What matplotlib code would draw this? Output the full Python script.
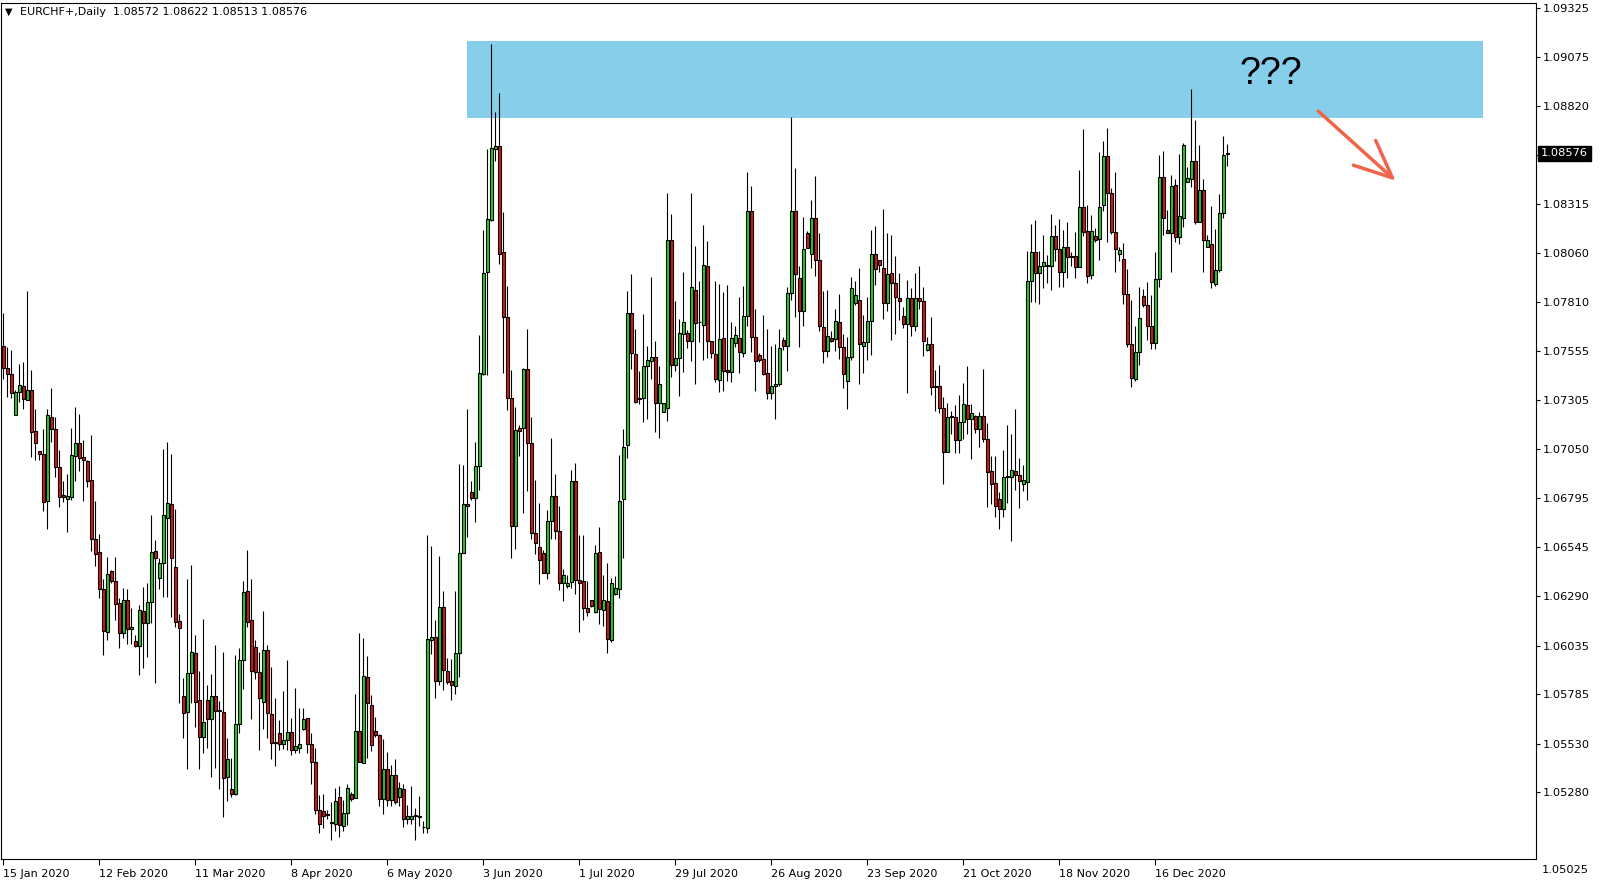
import matplotlib.pyplot as plt
import numpy as np
import pandas as pd
from matplotlib.patches import Rectangle

# EURCHF+ daily candles
opens = [
    1.07581, 1.07466, 1.07435, 1.07228, 1.07342, 1.07375, 1.07303, 1.07354, 1.07143, 1.07042,
    1.07024, 1.06784, 1.07215, 1.07151, 1.06955, 1.06812, 1.06790, 1.06804, 1.07016, 1.07079,
    1.07008, 1.06988, 1.06890, 1.06588, 1.06516, 1.06330, 1.06107, 1.06418, 1.06369, 1.06253,
    1.06098, 1.06269, 1.06119, 1.06059, 1.06031, 1.06212, 1.06154, 1.06263, 1.06526, 1.06382,
    1.06464, 1.06692, 1.06764, 1.06439, 1.06160, 1.05775, 1.05694, 1.05892, 1.05995, 1.05754,
    1.05565, 1.05754, 1.05659, 1.05775, 1.05703, 1.05691, 1.05355, 1.05295, 1.05272, 1.05630,
    1.05959, 1.06317, 1.06170, 1.06026, 1.05897, 1.05746, 1.06015, 1.05680, 1.05540, 1.05586,
    1.05530, 1.05546, 1.05592, 1.05498, 1.05509, 1.05607, 1.05664, 1.05530, 1.05437, 1.05185,
    1.05182, 1.05166, 1.05124, 1.05116, 1.05256, 1.05106, 1.05169, 1.05269, 1.05251, 1.05594,
    1.05431, 1.05873, 1.05729, 1.05594, 1.05574, 1.05246, 1.05401, 1.05237, 1.05367, 1.05255,
    1.05293, 1.05138, 1.05138, 1.05159, 1.05154, 1.05101, 1.05096, 1.06066, 1.06082, 1.05854,
    1.06235, 1.05903, 1.05851, 1.05828, 1.05999, 1.06514, 1.06764, 1.06826, 1.06799, 1.06960,
    1.07435, 1.07965, 1.08232, 1.08596, 1.08612, 1.08065, 1.07730, 1.07314, 1.06651, 1.07161,
    1.07156, 1.07462, 1.07079, 1.06619, 1.06542, 1.06511, 1.06408, 1.06681, 1.06805, 1.06628,
    1.06356, 1.06345, 1.06365, 1.06883, 1.06374, 1.06369, 1.06227, 1.06269, 1.06211, 1.06516,
    1.06219, 1.06266, 1.06064, 1.06302, 1.06326, 1.06790, 1.07073, 1.07750, 1.07541, 1.07315,
    1.07315, 1.07480, 1.07506, 1.07526, 1.07290, 1.07239, 1.07264, 1.08131, 1.07486, 1.07521,
    1.07646, 1.07651, 1.07610, 1.07869, 1.07708, 1.07688, 1.07997, 1.07610, 1.07541, 1.07404,
    1.07625, 1.07456, 1.07446, 1.07595, 1.07625, 1.07548, 1.07736, 1.08278, 1.07629, 1.07535,
    1.07514, 1.07440, 1.07341, 1.07377, 1.07383, 1.07613, 1.07584, 1.07853, 1.08278, 1.07932,
    1.07763, 1.08164, 1.08054, 1.08240, 1.08028, 1.07679, 1.07558, 1.07621, 1.07616, 1.07708,
    1.07574, 1.07403, 1.07527, 1.07802, 1.07819, 1.07584, 1.07600, 1.07710, 1.08054, 1.08025,
    1.07984, 1.07802, 1.07961, 1.07905, 1.07829, 1.07734, 1.07693, 1.07827, 1.07687, 1.07832,
    1.07812, 1.07563, 1.07590, 1.07373, 1.07373, 1.07260, 1.07036, 1.07220, 1.07213, 1.07099,
    1.07187, 1.07275, 1.07203, 1.07218, 1.07151, 1.07220, 1.07104, 1.06939, 1.06877, 1.06790,
    1.06739, 1.06907, 1.06907, 1.06938, 1.06918, 1.06867, 1.06881, 1.07919, 1.08069, 1.07960,
    1.07997, 1.08000, 1.07997, 1.08152, 1.08080, 1.07962, 1.08094, 1.08046, 1.08046, 1.07988,
    1.08297, 1.08173, 1.07946, 1.08147, 1.08132, 1.08312, 1.08563, 1.08371, 1.08168, 1.08059,
    1.08033, 1.07849, 1.07590, 1.07409, 1.07552, 1.07838, 1.07792, 1.07684, 1.07595, 1.07925,
    1.08452, 1.08179, 1.08163, 1.08411, 1.08142, 1.08240, 1.08427, 1.08442, 1.08534, 1.08220,
    1.08386, 1.08095, 1.08107, 1.07902, 1.07973, 1.08266, 1.08572,
]
highs = [
    1.07754, 1.07578, 1.07561, 1.07354, 1.07488, 1.07498, 1.07865, 1.07457, 1.07254, 1.07042,
    1.07153, 1.07258, 1.07367, 1.07217, 1.07044, 1.06887, 1.06921, 1.07158, 1.07269, 1.07230,
    1.07096, 1.06993, 1.07124, 1.06784, 1.06611, 1.06379, 1.06494, 1.06428, 1.06494, 1.06279,
    1.06335, 1.06330, 1.06232, 1.06090, 1.06245, 1.06337, 1.06356, 1.06709, 1.06580, 1.06485,
    1.07050, 1.07086, 1.07024, 1.06743, 1.06196, 1.05866, 1.06379, 1.06451, 1.06090, 1.05906,
    1.06175, 1.05832, 1.05888, 1.06038, 1.05749, 1.06002, 1.05558, 1.05453, 1.05987, 1.06025,
    1.06368, 1.06528, 1.06379, 1.06064, 1.06004, 1.06214, 1.06036, 1.05923, 1.05765, 1.05651,
    1.05801, 1.05961, 1.05661, 1.05818, 1.05713, 1.05713, 1.05664, 1.05586, 1.05507, 1.05266,
    1.05269, 1.05187, 1.05230, 1.05298, 1.05312, 1.05240, 1.05323, 1.05281, 1.05785, 1.06102,
    1.06074, 1.05983, 1.05780, 1.05666, 1.05579, 1.05555, 1.05484, 1.05418, 1.05448, 1.05333,
    1.05320, 1.05215, 1.05309, 1.05195, 1.05258, 1.05130, 1.06606, 1.06549, 1.06168, 1.06499,
    1.06316, 1.05972, 1.05967, 1.06316, 1.06973, 1.06970, 1.07255, 1.06885, 1.07086, 1.07638,
    1.08178, 1.08599, 1.09138, 1.08789, 1.08886, 1.08274, 1.07891, 1.07456, 1.07269, 1.07174,
    1.07470, 1.07671, 1.07217, 1.06890, 1.06769, 1.06528, 1.06735, 1.07106, 1.06919, 1.06756,
    1.06430, 1.06399, 1.06944, 1.06976, 1.06606, 1.06606, 1.06369, 1.06269, 1.06555, 1.06647,
    1.06399, 1.06460, 1.06382, 1.06394, 1.07019, 1.07153, 1.07865, 1.07953, 1.07672, 1.07452,
    1.07746, 1.07581, 1.07939, 1.07605, 1.07480, 1.07290, 1.08373, 1.08263, 1.07814, 1.07722,
    1.07963, 1.07665, 1.08373, 1.08097, 1.07915, 1.08204, 1.08123, 1.07610, 1.07919, 1.07902,
    1.07861, 1.07897, 1.07708, 1.07684, 1.07835, 1.07891, 1.08481, 1.08406, 1.07771, 1.07548,
    1.07740, 1.07668, 1.07581, 1.07594, 1.07668, 1.07626, 1.07888, 1.08763, 1.08501, 1.07997,
    1.08247, 1.08174, 1.08335, 1.08459, 1.08164, 1.07866, 1.07871, 1.07659, 1.07771, 1.07850,
    1.07645, 1.07627, 1.07939, 1.07917, 1.07984, 1.07740, 1.07834, 1.08182, 1.08200, 1.08025,
    1.08288, 1.08164, 1.08154, 1.08046, 1.07958, 1.07782, 1.07922, 1.07883, 1.07958, 1.07996,
    1.07886, 1.07630, 1.07730, 1.07460, 1.07483, 1.07320, 1.07285, 1.07246, 1.07277, 1.07329,
    1.07392, 1.07478, 1.07282, 1.07226, 1.07243, 1.07465, 1.07182, 1.07014, 1.07014, 1.06830,
    1.07044, 1.07173, 1.07127, 1.07256, 1.07006, 1.06967, 1.08073, 1.08213, 1.08230, 1.08071,
    1.08154, 1.08051, 1.08262, 1.08205, 1.08236, 1.08180, 1.08221, 1.08069, 1.08169, 1.08490,
    1.08701, 1.08309, 1.08260, 1.08193, 1.08583, 1.08639, 1.08706, 1.08396, 1.08481, 1.08094,
    1.08115, 1.07977, 1.07819, 1.07684, 1.07888, 1.07877, 1.07910, 1.07845, 1.08066, 1.08567,
    1.08588, 1.08284, 1.08464, 1.08444, 1.08573, 1.08627, 1.08504, 1.08908, 1.08748, 1.08617,
    1.08444, 1.08154, 1.08304, 1.08185, 1.08368, 1.08665, 1.08622,
]
lows = [
    1.07409, 1.07320, 1.07311, 1.07228, 1.07294, 1.07254, 1.07303, 1.07010, 1.06993, 1.06993,
    1.06728, 1.06635, 1.07088, 1.06907, 1.06752, 1.06778, 1.06623, 1.06787, 1.06885, 1.06938,
    1.06784, 1.06852, 1.06525, 1.06448, 1.06279, 1.05987, 1.06064, 1.06361, 1.06167, 1.06025,
    1.06077, 1.06046, 1.06046, 1.06030, 1.05886, 1.05921, 1.05978, 1.06150, 1.05840, 1.06330,
    1.06288, 1.06288, 1.06185, 1.06129, 1.05741, 1.05561, 1.05401, 1.05741, 1.05613, 1.05396,
    1.05483, 1.05505, 1.05359, 1.05405, 1.05293, 1.05153, 1.05235, 1.05252, 1.05264, 1.05582,
    1.05813, 1.06133, 1.05659, 1.05861, 1.05496, 1.05605, 1.05556, 1.05450, 1.05416, 1.05496,
    1.05504, 1.05498, 1.05473, 1.05479, 1.05479, 1.05600, 1.05479, 1.05319, 1.05166, 1.05066,
    1.05096, 1.05140, 1.05032, 1.05081, 1.05050, 1.05081, 1.05112, 1.05235, 1.05251, 1.05436,
    1.05431, 1.05457, 1.05493, 1.05566, 1.05210, 1.05164, 1.05210, 1.05210, 1.05220, 1.05209,
    1.05101, 1.05115, 1.05115, 1.05032, 1.05104, 1.05069, 1.05069, 1.05994, 1.05766, 1.05833,
    1.05807, 1.05838, 1.05753, 1.05785, 1.05873, 1.06514, 1.06598, 1.06786, 1.06673, 1.06839,
    1.07430, 1.07430, 1.08227, 1.08537, 1.08006, 1.07443, 1.07249, 1.06490, 1.06535, 1.07014,
    1.06718, 1.06831, 1.06588, 1.06506, 1.06351, 1.06408, 1.06379, 1.06585, 1.06585, 1.06322,
    1.06267, 1.06335, 1.06331, 1.06300, 1.06107, 1.06167, 1.06188, 1.06237, 1.06202, 1.06147,
    1.06139, 1.05999, 1.06056, 1.06294, 1.06283, 1.06490, 1.07005, 1.07461, 1.07289, 1.07283,
    1.07191, 1.07207, 1.07409, 1.07140, 1.07109, 1.07239, 1.07196, 1.07423, 1.07454, 1.07325,
    1.07449, 1.07569, 1.07506, 1.07383, 1.07604, 1.07511, 1.07519, 1.07521, 1.07398, 1.07343,
    1.07352, 1.07403, 1.07398, 1.07574, 1.07441, 1.07527, 1.07685, 1.07552, 1.07352, 1.07501,
    1.07432, 1.07306, 1.07306, 1.07207, 1.07377, 1.07561, 1.07454, 1.07819, 1.07732, 1.07578,
    1.07686, 1.08089, 1.07982, 1.07945, 1.07661, 1.07492, 1.07527, 1.07600, 1.07558, 1.07517,
    1.07363, 1.07257, 1.07509, 1.07791, 1.07385, 1.07444, 1.07511, 1.07535, 1.07899, 1.07966,
    1.07723, 1.07761, 1.07612, 1.07645, 1.07714, 1.07676, 1.07337, 1.07635, 1.07661, 1.07775,
    1.07531, 1.07558, 1.07329, 1.07244, 1.07235, 1.06872, 1.07036, 1.07130, 1.07032, 1.07027,
    1.07102, 1.07130, 1.07001, 1.07135, 1.07062, 1.07084, 1.06752, 1.06764, 1.06701, 1.06639,
    1.06701, 1.06769, 1.06575, 1.06838, 1.06748, 1.06835, 1.06787, 1.07811, 1.07811, 1.07799,
    1.07883, 1.07909, 1.07871, 1.08018, 1.07888, 1.07888, 1.07935, 1.07997, 1.07935, 1.07988,
    1.08150, 1.07909, 1.07925, 1.08116, 1.08023, 1.08278, 1.08121, 1.08160, 1.07966, 1.08018,
    1.07797, 1.07574, 1.07372, 1.07401, 1.07483, 1.07782, 1.07612, 1.07566, 1.07566, 1.07888,
    1.08155, 1.08163, 1.07966, 1.08121, 1.08107, 1.08198, 1.08427, 1.08401, 1.08210, 1.08220,
    1.07966, 1.08095, 1.07881, 1.07890, 1.07963, 1.08240, 1.08513,
]
closes = [
    1.07466, 1.07435, 1.07337, 1.07342, 1.07378, 1.07306, 1.07354, 1.07140, 1.07079, 1.07022,
    1.06779, 1.07228, 1.07151, 1.06955, 1.06804, 1.06804, 1.06805, 1.07019, 1.07079, 1.07005,
    1.06995, 1.06887, 1.06588, 1.06510, 1.06330, 1.06112, 1.06405, 1.06371, 1.06252, 1.06098,
    1.06269, 1.06119, 1.06129, 1.06031, 1.06217, 1.06154, 1.06263, 1.06521, 1.06485, 1.06464,
    1.06707, 1.06769, 1.06489, 1.06155, 1.06124, 1.05685, 1.05892, 1.06000, 1.05746, 1.05565,
    1.05639, 1.05654, 1.05777, 1.05700, 1.05700, 1.05350, 1.05448, 1.05272, 1.05630, 1.05959,
    1.06310, 1.06155, 1.05902, 1.05897, 1.05763, 1.06015, 1.05685, 1.05535, 1.05535, 1.05525,
    1.05546, 1.05587, 1.05498, 1.05519, 1.05530, 1.05654, 1.05530, 1.05437, 1.05185, 1.05116,
    1.05154, 1.05161, 1.05119, 1.05231, 1.05112, 1.05169, 1.05298, 1.05246, 1.05594, 1.05436,
    1.05878, 1.05741, 1.05522, 1.05576, 1.05246, 1.05401, 1.05237, 1.05367, 1.05230, 1.05300,
    1.05142, 1.05154, 1.05154, 1.05154, 1.05149, 1.05098, 1.06069, 1.06082, 1.05854, 1.06235,
    1.05908, 1.05849, 1.05830, 1.05999, 1.06514, 1.06764, 1.06754, 1.06799, 1.06960, 1.07440,
    1.07958, 1.08237, 1.08604, 1.08612, 1.08059, 1.07730, 1.07314, 1.06651, 1.07148, 1.07143,
    1.07462, 1.07081, 1.06619, 1.06563, 1.06477, 1.06408, 1.06681, 1.06810, 1.06628, 1.06356,
    1.06399, 1.06361, 1.06883, 1.06374, 1.06361, 1.06231, 1.06211, 1.06242, 1.06511, 1.06222,
    1.06271, 1.06067, 1.06356, 1.06331, 1.06781, 1.07063, 1.07750, 1.07548, 1.07294, 1.07310,
    1.07480, 1.07512, 1.07526, 1.07290, 1.07383, 1.07290, 1.08131, 1.07486, 1.07521, 1.07651,
    1.07708, 1.07610, 1.07886, 1.07702, 1.07705, 1.08002, 1.07610, 1.07548, 1.07409, 1.07620,
    1.07451, 1.07446, 1.07625, 1.07636, 1.07553, 1.07736, 1.08278, 1.07629, 1.07506, 1.07509,
    1.07439, 1.07337, 1.07377, 1.07385, 1.07569, 1.07584, 1.07853, 1.08278, 1.07953, 1.07763,
    1.08082, 1.08089, 1.08240, 1.08028, 1.07686, 1.07558, 1.07631, 1.07610, 1.07713, 1.07574,
    1.07435, 1.07527, 1.07879, 1.07843, 1.07590, 1.07600, 1.07710, 1.08059, 1.07977, 1.08002,
    1.07802, 1.07951, 1.07905, 1.07837, 1.07812, 1.07693, 1.07827, 1.07683, 1.07832, 1.07812,
    1.07605, 1.07590, 1.07368, 1.07368, 1.07260, 1.07036, 1.07213, 1.07213, 1.07099, 1.07187,
    1.07280, 1.07203, 1.07234, 1.07151, 1.07220, 1.07104, 1.06933, 1.06872, 1.06758, 1.06739,
    1.06907, 1.06910, 1.06944, 1.06915, 1.06887, 1.06888, 1.07915, 1.08069, 1.07956, 1.07997,
    1.08013, 1.07997, 1.08152, 1.08080, 1.07962, 1.08094, 1.08039, 1.08043, 1.07988, 1.08297,
    1.08168, 1.07941, 1.08173, 1.08131, 1.08297, 1.08563, 1.08371, 1.08168, 1.08080, 1.08075,
    1.07849, 1.07590, 1.07414, 1.07552, 1.07728, 1.07792, 1.07684, 1.07599, 1.07925, 1.08452,
    1.08244, 1.08163, 1.08406, 1.08142, 1.08255, 1.08617, 1.08447, 1.08534, 1.08220, 1.08386,
    1.08131, 1.08127, 1.07912, 1.07973, 1.08266, 1.08566, 1.08576,
]

first_day = "2020-01-15"
price_levels = [1.09325, 1.09075, 1.08820, 1.08565, 1.08315, 1.08060, 1.07810, 1.07555,
                1.07305, 1.07050, 1.06795, 1.06545, 1.06290, 1.06035, 1.05785, 1.05530,
                1.05280]
bottom_level = 1.05025   # MT4 prints the lowest label in the date row

# resistance zone and annotation
zone_top, zone_bottom = 1.09155, 1.08761
zone_start, zone_end = 115.9, 369.9

o = np.array(opens)
h = np.array(highs)
l = np.array(lows)
c = np.array(closes)
n = len(o)
x = np.arange(n)

# MT4 style: bars on Sun..Fri
dates = pd.bdate_range(first_day, periods=n, freq="C", weekmask="Sun Mon Tue Wed Thu Fri")
tick_pos = np.arange(0, n, 24)
tick_lab = [f"{dates[i].day} {dates[i]:%b %Y}" for i in tick_pos]

W, H = 1600, 884
fig = plt.figure(figsize=(16, 8.84), dpi=100)
fig.patch.set_facecolor("white")
ax = fig.add_axes([1 / W, 25 / H, 1535 / W, 856 / H])
ax.set_xlim(-0.575, 383.18)
ax.set_ylim(1.04934, 1.09352)

ax.add_patch(Rectangle((zone_start, zone_bottom), zone_end - zone_start,
                       zone_top - zone_bottom, facecolor="#87ceeb", edgecolor="none", zorder=0))

up = c > o
ax.vlines(x, l, h, color="black", linewidth=0.8, zorder=2)
ax.bar(x, np.abs(c - o), bottom=np.minimum(o, c), width=0.62,
       color=np.where(up, "#1ed21e", "#dc1414"), edgecolor="black", linewidth=0.8, zorder=3)

ax.text(316.9, 1.08985, "???", fontsize=27, family="Liberation Sans", ha="center", va="center")
ax.annotate("", xy=(348.6, 1.08425), xytext=(328.2, 1.08804),
            arrowprops=dict(arrowstyle="->,head_length=2.7,head_width=1.2",
                            color="#f0644a", lw=2.5))

for s in ax.spines.values():
    s.set_color("black")
    s.set_linewidth(0.8)

# the 1.08565 label sits under the price tag in the reference
ax.yaxis.tick_right()
ax.set_yticks(price_levels)
ax.set_yticklabels(["" if abs(v - c[-1]) < 0.0003 else f"{v:.5f}" for v in price_levels])
ax.tick_params(axis="y", direction="out", length=3, width=0.8, pad=2, labelsize=8.2)
ax.set_xticks(tick_pos)
ax.set_xticklabels(tick_lab)
ax.tick_params(axis="x", direction="out", length=4, width=0.8, pad=3, labelsize=8.0)
for t in ax.get_xticklabels():
    t.set_horizontalalignment("left")

ax.text(1.0 + 6 / 1535, -11 / 856, f"{bottom_level:.5f}", transform=ax.transAxes,
        ha="left", va="center", fontsize=8.2, clip_on=False)

# last price tag
ax.text(1.0 + 5 / 1535, c[-1], f"{c[-1]:.5f}", transform=ax.get_yaxis_transform(),
        ha="left", va="center", color="white", fontsize=8.2, clip_on=False, zorder=10,
        bbox=dict(facecolor="black", edgecolor="black", boxstyle="square,pad=0.25"))

fig.text(5 / W, 1 - 12 / H, "\u25bc", fontsize=7, va="center")
fig.text(20 / W, 1 - 12 / H,
         f"EURCHF+,Daily  {o[-1]:.5f} {h[-1]:.5f} {l[-1]:.5f} {c[-1]:.5f}",
         fontsize=8.0, va="center")

fig.savefig("out.png", dpi=100)
